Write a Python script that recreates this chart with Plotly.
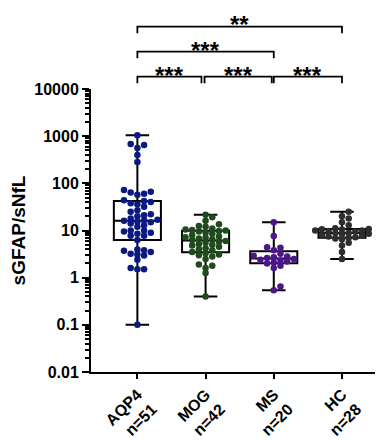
import numpy as np
import plotly.graph_objects as go

groups = ["AQP4", "MOG", "MS", "HC"]
n_labels = ["n=51", "n=42", "n=20", "n=28"]

aqp4 = [1050, 680, 650, 560, 400, 285,
        72, 66, 64, 60, 57,
        44, 42, 40,
        38, 36, 32, 27, 25, 22, 21, 20, 18, 17, 16.5, 16, 15.5, 15, 14, 13, 12, 10, 10, 9.5, 9, 8.5,
        7.7, 7.7, 6.3,
        3.95, 3.8, 3.7, 3.5, 3.2, 3.1, 2.95, 2.4, 1.6, 1.5, 1.5,
        0.1]
mog = [21.5, 19, 16, 13.5, 12.5, 12, 11, 10.5, 10.2, 10, 9.8,
       9.5, 9, 8.5, 8, 7.5, 7.2, 7, 6.8, 6.5, 6.3,
       6, 5.8, 5.5, 5.2, 5, 4.8, 4.5, 4.2, 4, 3.8,
       3.5, 3.3, 3.1, 3, 2.8, 2.5, 1.9, 1.8, 1.6, 1.25, 0.4]
ms = [15, 7.6, 4.4, 4.3, 3.8, 3.2, 2.9, 2.8, 2.7, 2.6, 2.5, 2.4, 2.3, 2.2, 2.1, 2.0, 1.8, 1.6, 0.65, 0.54]
hc = [25, 20, 18, 15, 13, 11.2, 10.8, 10.6, 10.5, 10, 10, 9.8, 9.5, 9, 8.8, 8.5, 8.3, 8, 7.8, 7.5,
      7.2, 7, 6.8, 6.5, 5.5, 4.8, 3.5, 2.5]
series = [aqp4, mog, ms, hc]
colors = ["#0a1a80", "#1f4a1c", "#4b1689", "#2e2e2e"]

y_tick_vals = [0.01, 0.1, 1, 10, 100, 1000, 10000]
y_tick_text = ["0.01", "0.1", "1", "10", "100", "1000", "10000"]

comparisons = [(0, 1, "***"), (1, 2, "***"), (2, 3, "***"), (0, 2, "***"), (0, 3, "**")]

W, H = 383, 440
ML, MR, MT, MB = 83, 4, 81, 64
PW, PH = W - ML - MR, H - MT - MB
XR = [-0.68, 3.66]
YR = [-2, 4]
px_per_x = PW / (XR[1] - XR[0])
px_per_dec = PH / (YR[1] - YR[0])


def swarm(vals, step=6.7, diam=5.0):
    order = np.argsort(vals)
    placed = []
    offs = [0.0] * len(vals)
    cands = [0]
    for j in range(1, 12):
        cands += [j, -j]
    for i in order:
        y = np.log10(vals[i]) * px_per_dec
        x = 0.0
        for c in cands:
            x = c * step
            if all((x - a) ** 2 + (y - b) ** 2 >= diam ** 2 for a, b in placed):
                break
        placed.append((x, y))
        offs[i] = x / px_per_x
    return offs


fig = go.Figure()
for i, vals in enumerate(series):
    v = np.array(vals, dtype=float)
    q1, med, q3 = np.percentile(v, [25, 50, 75], method="weibull")
    fig.add_trace(go.Box(
        x=[i], q1=[q1], median=[med], q3=[q3],
        lowerfence=[v.min()], upperfence=[v.max()],
        width=0.69, whiskerwidth=0.5,
        line=dict(color="black", width=2),
        fillcolor="rgba(255,255,255,0)",
        boxpoints=False, showlegend=False, hoverinfo="skip"))
for i, vals in enumerate(series):
    offs = swarm(vals)
    fig.add_trace(go.Scatter(
        x=[i + o for o in offs], y=vals, mode="markers",
        marker=dict(color=colors[i], size=6.5, line=dict(width=0)),
        showlegend=False))


def ypx(p):
    return (H - MB - p) / PH


row_px = {0: 68, 1: 42, 2: 16}
star_px = {0: 61, 1: 35, 2: 8}
drop = 7
for a, b, s in comparisons:
    if b - a == 1:
        row = 0
        x0, x1 = {0: (0.0, 0.94), 1: (0.985, 1.97), 2: (2.0, 3.0)}[a]
    elif b - a == 2:
        row = 1
        x0, x1 = a, b
    else:
        row = 2
        x0, x1 = a, b
    yl = ypx(row_px[row])
    yd = ypx(row_px[row] + drop)
    fig.add_shape(type="path", xref="x", yref="paper",
                  path=f"M {x0},{yd} L {x0},{yl} L {x1},{yl} L {x1},{yd}",
                  line=dict(color="black", width=1.8))
    fig.add_annotation(x=(x0 + x1) / 2, y=ypx(star_px[row] + 6), xref="x", yref="paper",
                       text=s, showarrow=False, yanchor="middle",
                       font=dict(size=24, color="black", family="Liberation Sans", weight="bold"))

fig.update_layout(
    width=W, height=H,
    margin=dict(l=ML, r=MR, t=MT, b=MB, pad=0),
    paper_bgcolor="white", plot_bgcolor="white",
    font=dict(family="Liberation Sans", color="black"),
    xaxis=dict(range=XR, tickmode="array", tickvals=[0, 1, 2, 3],
               ticktext=[f"{g}<br>{n}" for g, n in zip(groups, n_labels)],
               tickangle=-45, ticks="outside", ticklen=5, tickwidth=1.8, tickcolor="black",
               showline=True, linecolor="black", linewidth=2, showgrid=False, zeroline=False,
               tickfont=dict(size=16, weight="bold", family="Liberation Sans")),
    yaxis=dict(type="log", range=YR, tickmode="array", tickvals=y_tick_vals, ticktext=y_tick_text,
               ticks="outside", ticklen=7, tickwidth=1.8, tickcolor="black",
               showline=True, linecolor="black", linewidth=2, showgrid=False, zeroline=False,
               tickfont=dict(size=16, weight="bold", family="Liberation Sans"),
               title=dict(text="sGFAP/sNfL", standoff=8,
                          font=dict(size=19, weight="bold", family="Liberation Sans")),
               minor=dict(tickmode="array",
                          tickvals=[k * 10.0 ** e for e in range(-2, 4) for k in range(2, 10)],
                          ticks="outside", ticklen=4, tickwidth=1.5, tickcolor="black",
                          showgrid=False)),
)

fig.write_html("out.html")
